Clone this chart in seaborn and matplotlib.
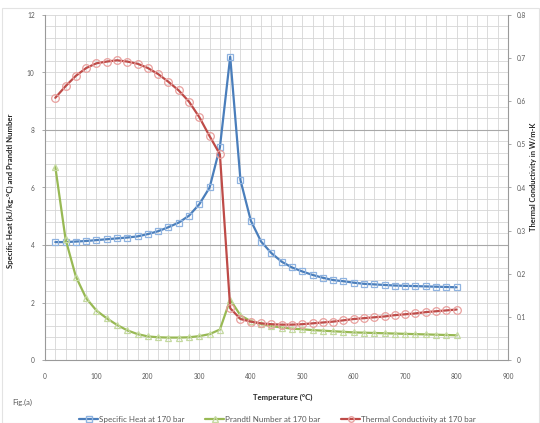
import numpy as np
import pandas as pd
import matplotlib
matplotlib.use("Agg")
import matplotlib.pyplot as plt
from matplotlib.lines import Line2D
from matplotlib.patches import Rectangle
from matplotlib.ticker import MultipleLocator
import seaborn as sns

# ---------------- data ----------------
temperature = [20, 40, 60, 80, 100, 120, 140, 160, 180, 200,
               220, 240, 260, 280, 300, 320, 340, 360, 380, 400,
               420, 440, 460, 480, 500, 520, 540, 560, 580, 600,
               620, 640, 660, 680, 700, 720, 740, 760, 780, 800]

specific_heat = [4.10, 4.10, 4.12, 4.14, 4.17, 4.20, 4.23, 4.26, 4.30, 4.38,
                 4.48, 4.62, 4.78, 5.02, 5.42, 6.00, 7.40, 10.55, 6.25, 4.85,
                 4.12, 3.72, 3.42, 3.22, 3.08, 2.96, 2.86, 2.78, 2.74, 2.69,
                 2.65, 2.63, 2.61, 2.59, 2.58, 2.57, 2.56, 2.55, 2.54, 2.53]

prandtl = [6.72, 4.20, 2.90, 2.15, 1.72, 1.45, 1.22, 1.03, 0.90, 0.82,
           0.79, 0.78, 0.78, 0.79, 0.83, 0.90, 1.06, 2.10, 1.55, 1.35,
           1.25, 1.18, 1.13, 1.09, 1.07, 1.04, 1.02, 1.00, 0.98, 0.96,
           0.95, 0.94, 0.93, 0.92, 0.91, 0.90, 0.89, 0.88, 0.87, 0.86]

thermal_conductivity = [0.608, 0.635, 0.659, 0.677, 0.688, 0.692, 0.695, 0.692, 0.687, 0.677,
                        0.663, 0.645, 0.625, 0.599, 0.563, 0.519, 0.477, 0.120, 0.095, 0.089,
                        0.085, 0.083, 0.082, 0.082, 0.083, 0.085, 0.087, 0.089, 0.092, 0.095,
                        0.097, 0.099, 0.101, 0.104, 0.106, 0.108, 0.111, 0.113, 0.115, 0.117]

series_labels = ["Specific Heat at 170 bar", "Prandtl Number at 170 bar",
                 "Thermal Conductivity at 170 bar"]

df = pd.DataFrame({"Temperature": temperature, "Cp": specific_heat,
                   "Pr": prandtl, "k": thermal_conductivity})

# ---------------- style ----------------
sns.set_theme(style="white")
plt.rcParams["font.family"] = ["Lato", "DejaVu Sans"]

BLUE, BLUE_L = "#4a7ebb", "#8fb3e0"
GREEN, GREEN_L = "#98b954", "#c4d9a0"
RED, RED_L = "#be4b48", "#e8a09e"
TICK_C = "#595959"
GRID_C = "#d6d6d6"

fig = plt.figure(figsize=(5.4, 4.23), dpi=100)
fig.patch.set_facecolor("white")
fig.patches.append(Rectangle((2 / 540, 0.0), 1 - 2 / 540 - 0.001, 1 - 8 / 423,
                             transform=fig.transFigure, fill=False,
                             edgecolor="#e3e3e3", linewidth=0.8))

ax = fig.add_axes([45 / 540, 1 - 360 / 423, (508 - 45) / 540, (360 - 15) / 423])
ax2 = ax.twinx()

# ---------------- grid ----------------
ax.set_xlim(0, 900)
ax.set_ylim(0, 12)
ax2.set_ylim(0, 0.8)
ax.xaxis.set_major_locator(MultipleLocator(100))
ax.xaxis.set_minor_locator(MultipleLocator(20))
ax.yaxis.set_major_locator(MultipleLocator(2))
ax.yaxis.set_minor_locator(MultipleLocator(0.4))
ax2.yaxis.set_major_locator(MultipleLocator(0.1))
ax.set_axisbelow(True)
ax.grid(which="both", color=GRID_C, linewidth=0.6)
for yv in (4, 8):
    ax.axhline(yv, color="#a8a8a8", linewidth=0.8, zorder=0.6)

# ---------------- series ----------------
sns.lineplot(data=df, x="Temperature", y="Cp", ax=ax, color=BLUE, linewidth=1.6,
             marker="s", markersize=5, markerfacecolor="none",
             markeredgecolor=BLUE_L, markeredgewidth=0.9, legend=False, zorder=3)
sns.lineplot(data=df, x="Temperature", y="Pr", ax=ax, color=GREEN, linewidth=1.6,
             marker="^", markersize=5, markerfacecolor="none",
             markeredgecolor=GREEN_L, markeredgewidth=0.9, legend=False, zorder=3)
sns.lineplot(data=df, x="Temperature", y="k", ax=ax2, color=RED, linewidth=1.6,
             marker="o", markersize=5.5, markerfacecolor="none",
             markeredgecolor=RED_L, markeredgewidth=0.9, legend=False, zorder=3)

# ---------------- axes cosmetics ----------------
for a in (ax, ax2):
    for s in a.spines.values():
        s.set_visible(False)
ax.spines["left"].set_visible(True)
ax.spines["bottom"].set_visible(True)
ax2.spines["right"].set_visible(True)
for s in (ax.spines["left"], ax.spines["bottom"], ax2.spines["right"]):
    s.set_color("#9a9a9a")
    s.set_linewidth(0.8)

ax.tick_params(axis="both", which="major", length=2.5, width=0.6, color="#9a9a9a",
               labelsize=4.7, labelcolor=TICK_C, pad=5)
ax.tick_params(axis="both", which="minor", length=0)
ax.tick_params(axis="x", pad=7)
ax2.tick_params(axis="y", which="major", length=2.5, width=0.6, color="#9a9a9a",
                labelsize=4.7, labelcolor=TICK_C, pad=4)
ax2.tick_params(axis="y", which="minor", length=0)

ax.yaxis.set_major_formatter(matplotlib.ticker.FuncFormatter(lambda v, p: f"{v:g}"))
ax2.yaxis.set_major_formatter(matplotlib.ticker.FuncFormatter(lambda v, p: f"{v:g}"))

ax.set_xlabel("Temperature (°C)", fontsize=5.6, fontweight="bold", color="#262626")
ax.xaxis.set_label_coords(0.514, -0.099)
ax.set_ylabel("Specific Heat (kJ/kg-°C) and Prandtl Number", fontsize=5.6,
              fontweight="bold", color="#262626")
ax.yaxis.set_label_coords(-0.067, 0.49)
ax2.set_ylabel("Thermal Conductivity in W/m-K", fontsize=5.4, fontweight="bold",
               color="#262626")
ax2.yaxis.set_label_coords(1.047, 0.53)

fig.text(12 / 540, 1 - 402 / 423, "Fig.(a)", fontsize=5.5, color=TICK_C,
         ha="left", va="center")

handles = [
    Line2D([], [], color=BLUE, linewidth=1.6, marker="s", markersize=4,
           markerfacecolor="none", markeredgecolor=BLUE_L),
    Line2D([], [], color=GREEN, linewidth=1.6, marker="^", markersize=4,
           markerfacecolor="none", markeredgecolor=GREEN_L),
    Line2D([], [], color=RED, linewidth=1.6, marker="o", markersize=4,
           markerfacecolor="none", markeredgecolor=RED_L),
]
leg = fig.legend(handles, series_labels, loc="center", ncol=3,
                 bbox_to_anchor=(0.514, 1 - 419 / 423), frameon=False,
                 fontsize=5.8, handlelength=2.3, handletextpad=0.15,
                 columnspacing=2.6, borderaxespad=0)
for t in leg.get_texts():
    t.set_color(TICK_C)

fig.savefig("out.png", dpi=100, facecolor="white")
